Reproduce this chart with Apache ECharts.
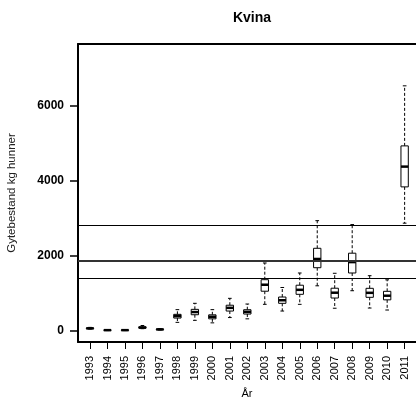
<!DOCTYPE html>
<html>
<head>
<meta charset="utf-8">
<script src="https://cdn.jsdelivr.net/npm/echarts@6/dist/echarts.min.js"></script>
<style>
html,body{margin:0;padding:0;background:#fff;}
#chart{width:416px;height:398px;}
</style>
</head>
<body>
<div id="chart"></div>
<script>
var title = 'Kvina';
var years = ['1993','1994','1995','1996','1997','1998','1999','2000','2001','2002','2003','2004','2005','2006','2007','2008','2009','2010','2011'];
var whiskerLow  = [45, 5, 5, 55, 20, 224, 278, 211, 352, 318, 705, 526, 705, 1199, 601, 1068, 606, 553, 2870];
var quartile1   = [55, 10, 10, 70, 28, 339, 427, 318, 526, 446, 1055, 732, 972, 1682, 873, 1541, 892, 825, 3838];
var medians     = [64, 16, 16, 85, 36, 392, 499, 374, 611, 505, 1228, 814, 1092, 1915, 1015, 1832, 1012, 935, 4379];
var quartile3   = [75, 22, 22, 105, 45, 438, 571, 425, 681, 561, 1362, 900, 1215, 2200, 1135, 2069, 1132, 1052, 4932];
var whiskerHigh = [90, 30, 30, 140, 55, 563, 732, 563, 865, 713, 1808, 1154, 1541, 2937, 1533, 2833, 1469, 1359, 6534];
var refLines = [2809, 1861, 1399];
var yTicks = [0, 2000, 4000, 6000];
var yName = 'Gytebestand kg hunner';
var xName = 'År';

var idx = years.map(function(_, i){ return i; });
var boxData = years.map(function(_, i){
  return [i, whiskerLow[i], quartile1[i], medians[i], quartile3[i], whiskerHigh[i]];
});

var chart = echarts.init(document.getElementById('chart'), null, {renderer:'canvas'});
var FONT = 'Liberation Sans, Arial, sans-serif';

function renderBox(params, api){
  var x = api.value(0);
  var lo = api.coord([x, api.value(1)]);
  var q1 = api.coord([x, api.value(2)]);
  var md = api.coord([x, api.value(3)]);
  var q3 = api.coord([x, api.value(4)]);
  var hi = api.coord([x, api.value(5)]);
  var band = api.size([1, 0])[0];
  var bw = band * 0.42;
  var cw = bw * 0.5;
  var cx = lo[0];
  var dash = {stroke:'#000', lineWidth:1, lineDash:[3,2], fill:null};
  var solid = {stroke:'#000', lineWidth:1, fill:null};
  return {type:'group', children:[
    {type:'line', shape:{x1:cx, y1:q1[1], x2:cx, y2:lo[1]}, style:dash},
    {type:'line', shape:{x1:cx, y1:q3[1], x2:cx, y2:hi[1]}, style:dash},
    {type:'line', shape:{x1:cx-cw/2, y1:lo[1], x2:cx+cw/2, y2:lo[1]}, style:solid},
    {type:'line', shape:{x1:cx-cw/2, y1:hi[1], x2:cx+cw/2, y2:hi[1]}, style:solid},
    {type:'rect', shape:{x:cx-bw/2, y:q3[1], width:bw, height:q1[1]-q3[1]}, style:{fill:'#fff', stroke:'#000', lineWidth:1}},
    {type:'line', shape:{x1:cx-bw/2, y1:md[1], x2:cx+bw/2, y2:md[1]}, style:{stroke:'#000', lineWidth:2.5}}
  ]};
}

var option = {
  animation:false,
  backgroundColor:'#fff',
  title:{
    text:title, left:247, top:6, textAlign:'center',
    textStyle:{fontFamily:FONT, fontSize:14, fontWeight:'bold', color:'#000'}
  },
  grid:{left:78, top:44, right:0, bottom:56, containLabel:false, outerBoundsMode:'none'},
  xAxis:[{
    type:'value', min:-0.686, max:18.65,
    splitLine:{show:false},
    axisLine:{show:true, onZero:false, lineStyle:{color:'#000', width:2}},
    axisTick:{show:true, customValues:idx, length:7, lineStyle:{color:'#000', width:1}},
    axisLabel:{show:true, customValues:idx, rotate:90, margin:14,
      formatter:function(v){ return years[Math.round(v)]; },
      fontFamily:FONT, fontSize:11, color:'#000'},
    name:xName, nameLocation:'middle', nameGap:44,
    nameTextStyle:{fontFamily:FONT, fontSize:11, color:'#000'}
  },{
    type:'value', position:'top', min:-0.686, max:18.65,
    splitLine:{show:false},
    axisLine:{show:true, onZero:false, lineStyle:{color:'#000', width:2}},
    axisTick:{show:false}, axisLabel:{show:false}
  }],
  yAxis:{
    type:'value', min:-300, max:7650,
    splitLine:{show:false},
    axisLine:{show:true, onZero:false, lineStyle:{color:'#000', width:2}},
    axisTick:{show:true, customValues:yTicks, length:8, lineStyle:{color:'#000', width:1.5}},
    axisLabel:{show:true, customValues:yTicks, margin:14,
      formatter:function(v){ return String(v); },
      fontFamily:FONT, fontSize:12, fontWeight:'bold', color:'#000'},
    name:yName, nameLocation:'middle', nameGap:60,
    nameTextStyle:{fontFamily:FONT, fontSize:11.5, color:'#222'}
  },
  series:[{
    type:'custom',
    renderItem:renderBox,
    data:boxData,
    encode:{x:0, y:[1,2,3,4,5]},
    silent:true,
    z:3,
    markLine:{
      silent:true, symbol:'none', label:{show:false},
      data:refLines.map(function(v, i){
        return {yAxis:v, lineStyle:{color: i===1 ? '#333' : '#000', width: i===1 ? 2 : 1.2, type:'solid'}};
      })
    }
  }]
};
chart.setOption(option);
</script>
</body>
</html>
